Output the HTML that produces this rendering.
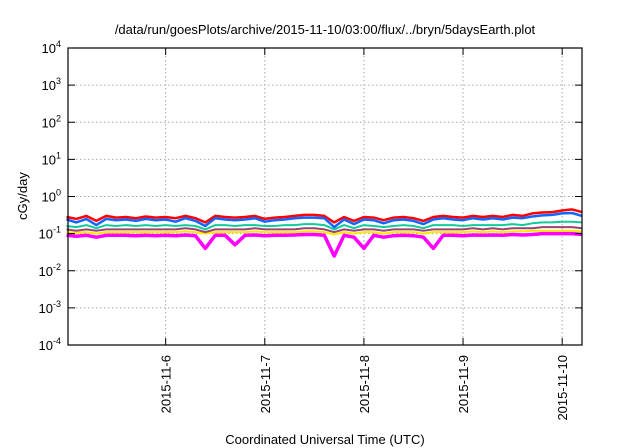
<!DOCTYPE html>
<html><head><meta charset="utf-8"><style>
body{margin:0;background:#fff}
svg{display:block;font-family:"Liberation Sans",sans-serif}
</style></head><body>
<svg id="chart" width="640" height="448" viewBox="0 0 640 448">
<rect width="640" height="448" fill="#fff"/>
<text x="325" y="34" font-size="13" text-anchor="middle">/data/run/goesPlots/archive/2015-11-10/03:00/flux/../bryn/5daysEarth.plot</text>
<g id="grid"></g>
<g id="series"></g>
<rect x="68" y="48" width="514" height="297" fill="none" stroke="#000" stroke-width="1.2"/>
<g id="axes"></g>
<text transform="translate(27,196) rotate(-90)" font-size="13" text-anchor="middle">cGy/day</text>
<text x="325" y="444" font-size="13" text-anchor="middle">Coordinated Universal Time (UTC)</text>
</svg>
<script>
const times=[5.0,5.1,5.2,5.3,5.4,5.5,5.6,5.7,5.8,5.9,6.0,6.1,6.2,6.3,6.4,6.5,6.6,6.7,6.8,6.9,7.0,7.1,7.2,7.3,7.4,7.5,7.6,7.7,7.8,7.9,8.0,8.1,8.2,8.3,8.4,8.5,8.6,8.7,8.8,8.9,9.0,9.1,9.2,9.3,9.4,9.5,9.6,9.7,9.8,9.9,10.0,10.1,10.2];
const redVals=[.28,.25,.30,.22,.30,.27,.28,.26,.29,.27,.28,.26,.30,.26,.20,.30,.28,.27,.28,.30,.25,.27,.28,.30,.32,.32,.30,.20,.28,.22,.28,.27,.23,.27,.28,.26,.22,.28,.30,.28,.27,.30,.28,.30,.28,.32,.30,.35,.37,.38,.42,.45,.38];
const blueVals=[.24,.20,.25,.17,.25,.23,.24,.22,.25,.23,.24,.21,.26,.22,.16,.26,.24,.23,.24,.26,.21,.23,.24,.26,.27,.27,.26,.15,.24,.18,.24,.23,.19,.23,.24,.22,.18,.24,.26,.24,.23,.26,.24,.26,.24,.27,.26,.29,.31,.32,.35,.36,.30];
const tealVals=[.16,.15,.17,.14,.17,.16,.17,.16,.17,.16,.17,.16,.17,.16,.13,.17,.17,.16,.17,.17,.16,.16,.17,.17,.18,.18,.17,.13,.17,.14,.17,.16,.15,.16,.17,.16,.14,.17,.17,.17,.16,.17,.17,.17,.17,.18,.17,.19,.2,.2,.21,.21,.2];
const purpleVals=[.13,.12,.13,.12,.13,.13,.13,.13,.13,.13,.13,.13,.14,.13,.11,.13,.13,.13,.13,.14,.13,.13,.13,.13,.14,.14,.13,.11,.13,.12,.13,.13,.12,.13,.13,.13,.12,.13,.13,.13,.13,.14,.13,.14,.13,.14,.14,.14,.15,.15,.15,.15,.14];
const yellowVals=[.11,.105,.11,.10,.11,.11,.11,.11,.11,.11,.11,.11,.115,.11,.10,.11,.11,.11,.11,.115,.11,.11,.11,.11,.115,.115,.11,.095,.11,.10,.11,.11,.10,.11,.11,.11,.10,.11,.11,.11,.11,.115,.11,.115,.11,.115,.115,.12,.12,.12,.12,.12,.115];
const magentaVals=[.09,.085,.09,.08,.09,.09,.09,.088,.09,.088,.09,.088,.092,.088,.04,.09,.09,.05,.09,.092,.088,.09,.09,.092,.095,.095,.09,.025,.09,.08,.04,.09,.08,.088,.09,.088,.08,.04,.09,.09,.088,.092,.09,.092,.09,.095,.092,.095,.1,.1,.1,.1,.095];
const yTickExp=[-4,-3,-2,-1,0,1,2,3,4];
const xTickDays=[6,7,8,9,10];
const xTickLabels=["2015-11-6","2015-11-7","2015-11-8","2015-11-9","2015-11-10"];
const L=68,R=582,T=48,B=345,X0=5.015,X1=10.2;
const xs=d=>L+(d-X0)/(X1-X0)*(R-L);
const ys=v=>B-(Math.log10(v)+4)/8*(B-T);
const NS="http://www.w3.org/2000/svg";
function mk(tag,attrs,parent){const e=document.createElementNS(NS,tag);for(const k in attrs)e.setAttribute(k,attrs[k]);parent.appendChild(e);return e;}
const grid=document.getElementById('grid'),axes=document.getElementById('axes'),ser=document.getElementById('series');
yTickExp.forEach(p=>{const y=ys(Math.pow(10,p));
 if(p>-4&&p<4){const g=mk('line',{x1:L,x2:R,y1:y,y2:y,stroke:'#aaa','stroke-dasharray':'1.5,2.5','stroke-width':1},grid);
 
 }
 const t1=mk('line',{x1:L,x2:L+7,y1:y,y2:y,stroke:'#000'},axes);
 
 
 const t2=mk('line',{x1:R,x2:R-7,y1:y,y2:y,stroke:'#000'},axes);
 
 
 const tx=mk('text',{x:L-7,y:y+5,'font-size':13,'text-anchor':'end'},axes);
 
 
 const base=mk('tspan',{},tx);base.textContent='10';
 const sp=mk('tspan',{dy:-6,'font-size':9},tx);sp.textContent=String(p);
});
xTickDays.forEach((d,i)=>{const x=xs(d);
 const g=mk('line',{x1:x,x2:x,y1:T,y2:B,stroke:'#aaa','stroke-dasharray':'1.5,2.5','stroke-width':1},grid);
 
 
 const t1=mk('line',{x1:x,x2:x,y1:B,y2:B-7,stroke:'#000'},axes);
 
 
 const t2=mk('line',{x1:x,x2:x,y1:T,y2:T+7,stroke:'#000'},axes);
 
 
 const tx=mk('text',{transform:`translate(${x+5},355) rotate(-90)`,'font-size':13,'text-anchor':'end'},axes);
 
 
 tx.textContent=xTickLabels[i];
});
const seriesList=[[magentaVals,'#ff00ff',3.5,'series-magenta'],[yellowVals,'#ffe800',2,'series-yellow'],[purpleVals,'#994477',2,'series-purple'],[tealVals,'#11cc99',2,'series-teal'],[redVals,'#ff0000',2.5,'series-red'],[blueVals,'#1166ff',2.5,'series-blue']];
seriesList.forEach(([vals,c,w,name])=>{
 const pts=vals.map((v,i)=>xs(times[i]).toFixed(1)+','+ys(v).toFixed(1)).join(' ');
 const pl=mk('polyline',{points:pts,fill:'none',stroke:c,'stroke-width':w,'stroke-linejoin':'round'},ser);
 
 
});
</script>
</body></html>
